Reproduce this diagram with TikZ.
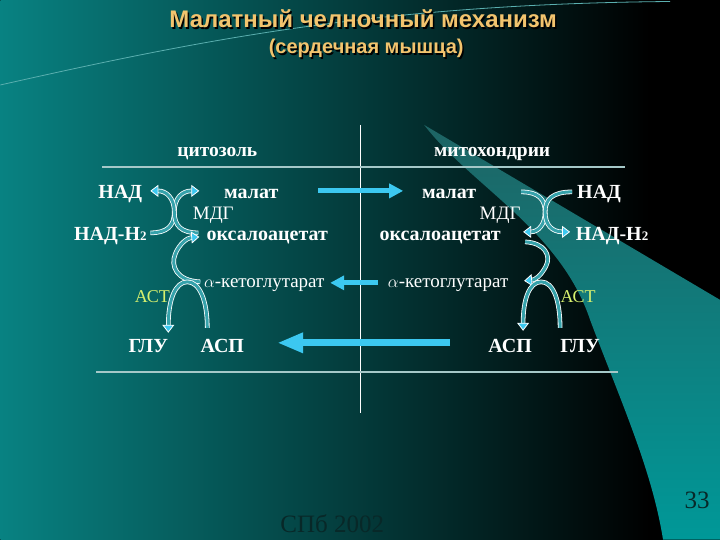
\documentclass[tikz,border=0pt]{standalone}
\usepackage{fontspec}
\setmainfont{Liberation Serif}
\newfontfamily\titlefont{Liberation Sans}
\usetikzlibrary{arrows.meta}

\definecolor{bgteal}{RGB}{8,130,130}
\definecolor{bandtop}{RGB}{30,100,100}
\definecolor{bandbot}{RGB}{0,152,152}
\definecolor{arrblue}{RGB}{60,200,240}
\definecolor{curvfill}{RGB}{120,205,225}
\definecolor{gold}{RGB}{242,196,110}
\definecolor{astcol}{RGB}{215,240,110}
\definecolor{rulecol}{RGB}{165,200,200}
\definecolor{darktxt}{RGB}{8,40,40}
\definecolor{swoosh}{RGB}{90,175,175}

\tikzset{
  lbl/.style={anchor=base, inner sep=0pt, text=white, font=\bfseries\fontsize{20}{20}\selectfont},
  enz/.style={anchor=base, inner sep=0pt, text=white, font=\fontsize{19}{19}\selectfont},
  ast/.style={enz, text=astcol, font=\fontsize{18}{18}\selectfont},
  hdr/.style={anchor=base, inner sep=0pt, text=white, font=\bfseries\fontsize{19.5}{19.5}\selectfont},
  ttl/.style={anchor=base, inner sep=0pt, text=gold, font=\titlefont\bfseries\fontsize{24}{24}\selectfont},
  rule/.style={draw=rulecol, line width=2pt},
  bigarr/.style={draw=arrblue, line width=5pt, -{Triangle[length=14pt,width=14pt]}},
  curv/.style={draw=white, line width=0.8pt, double=curvfill!45!teal, double distance=3pt,
    -{Triangle[length=8pt,width=12pt,fill=arrblue]}}
}
\newcommand{\nadh}{НАД-Н{\fontsize{13}{13}\selectfont 2}}

\begin{document}
\begin{tikzpicture}[x=1pt, y=-1pt]
  % background
  \fill[black] (0,0) rectangle (720,540);
  \shade[left color=bgteal, right color=black] (0,0) rectangle (650,540);
  \shade[top color=bandtop, bottom color=bandbot]
    (424,125) .. controls (470,185) and (560,230) .. (590,320)
    .. controls (620,400) and (652,470) .. (663,540) -- (720,540) -- (720,300) -- cycle;
  \draw[swoosh, line width=0.8pt] (0,85) .. controls (200,40) and (380,4) .. (670,1.5);
  \useasboundingbox (0,0) rectangle (720,540);

  % title
  \node[ttl, text=black] at (364.5,29.5) {Малатный челночный механизм};
  \node[ttl] (title) at (363,28) {Малатный челночный механизм};
  \node[ttl, text=black, font=\titlefont\bfseries\fontsize{20}{20}\selectfont] at (367.5,55.5) {(сердечная мышца)};
  \node[ttl, font=\titlefont\bfseries\fontsize{20}{20}\selectfont] (subtitle) at (366,54) {(сердечная мышца)};

  % frame lines
  \draw[white, line width=0.8pt] (360,125) -- (360,413);
  \draw[rule] (102,167) -- (625,167);
  \draw[rule] (96,372) -- (618,372);
  \node[hdr] (cyto) at (217,157) {цитозоль};
  \node[hdr] (mito) at (492,157) {митохондрии};

  % cytosol
  \node[lbl] (cNad) at (120,199) {НАД};
  \node[lbl] (cMal) at (251,199) {малат};
  \node[enz] (cMdg) at (213,220) {МДГ};
  \node[lbl] (cNadh) at (110,241) {\nadh};
  \node[lbl] (cOaa) at (267,241) {оксалоацетат};
  \node[enz] (cKg) at (264,288) {$\alpha$-кетоглутарат};
  \node[ast] (cAst) at (152,303) {АСТ};
  \node[lbl] (cGlu) at (148,353) {ГЛУ};
  \node[lbl] (cAsp) at (222,353) {АСП};

  % mitochondria
  \node[lbl] (mMal) at (449,199) {малат};
  \node[lbl] (mNad) at (599,199) {НАД};
  \node[enz] (mMdg) at (500,220) {МДГ};
  \node[lbl] (mOaa) at (440,241) {оксалоацетат};
  \node[lbl] (mNadh) at (612,241) {\nadh};
  \node[enz] (mKg) at (448,288) {$\alpha$-кетоглутарат};
  \node[ast] (mAst) at (578,303) {АСТ};
  \node[lbl] (mAsp) at (510,353) {АСП};
  \node[lbl] (mGlu) at (580,353) {ГЛУ};

  % transport arrows
  \coordinate (malA) at (318,191);
  \coordinate (malB) at (403,191);
  \coordinate (kgA) at (378,283);
  \coordinate (kgB) at (330,283);
  \coordinate (aspA) at (450,343);
  \coordinate (aspB) at (277,343);
  \draw[bigarr] (malA) -- (malB);
  \draw[bigarr] (kgA) -- (kgB);
  \draw[bigarr, line width=7pt, -{Triangle[length=26pt,width=19pt]}] (aspA) -- (aspB);

  % cytosol reactions
  \coordinate (cX) at (174,212);
  \draw[curv] (150,233) .. controls (167,233) and (174,226) .. (cX)
    .. controls (174,198) and (182,191) .. (199,191);
  \draw[curv] (198,233) .. controls (181,233) and (174,226) .. (cX)
    .. controls (174,198) and (166,191) .. (150,191);
  \draw[curv] (200,282) .. controls (176,281) and (170,266) .. (175,254)
    .. controls (179,244) and (187,238) .. (199,237);
  \draw[curv] (207,328) .. controls (207,300) and (199,282) .. (187,282)
    .. controls (175,282) and (168,300) .. (168,333);

  % mitochondrial reactions
  \coordinate (mX) at (545,212);
  \draw[curv] (521,192) .. controls (538,192) and (545,199) .. (mX)
    .. controls (545,225) and (538,232) .. (523,232);
  \draw[curv] (572,192) .. controls (553,192) and (545,199) .. (mX)
    .. controls (545,225) and (552,232) .. (570,232);
  \draw[curv] (525,242) .. controls (545,243) and (551,256) .. (546,266)
    .. controls (541,276) and (535,280) .. (524,281);
  \draw[curv] (560,328) .. controls (560,300) and (553,282) .. (541,282)
    .. controls (529,282) and (523,300) .. (523,331);

  % footer
  \node[anchor=base, inner sep=0pt, text=darktxt, font=\fontsize{25}{25}\selectfont] (city) at (332,533) {СПб 2002};
  \node[anchor=base, inner sep=0pt, text=darktxt, font=\fontsize{25}{25}\selectfont] (page) at (697,509) {33};
\end{tikzpicture}
\end{document}
